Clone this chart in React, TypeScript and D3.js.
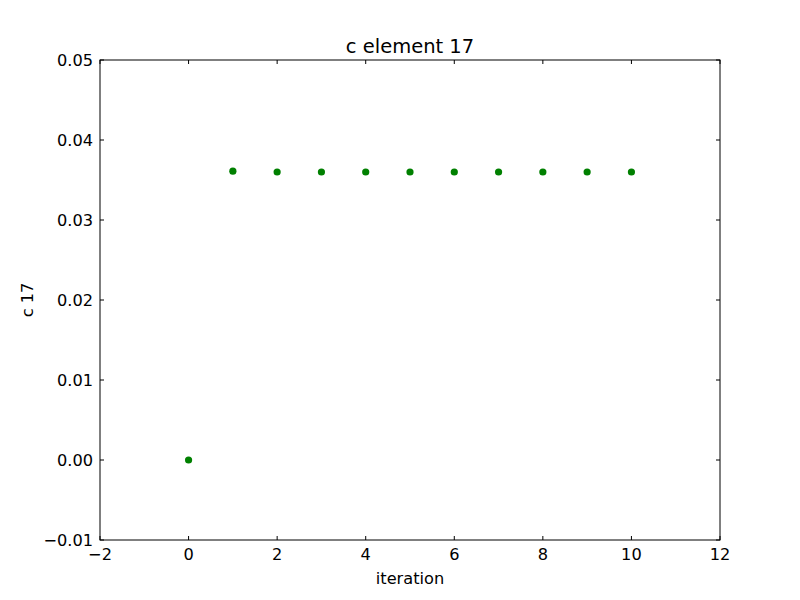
import React from "react";
import * as d3 from "d3";

const iterations = [0, 1, 2, 3, 4, 5, 6, 7, 8, 9, 10];
const values = [0.0, 0.0361, 0.036, 0.036, 0.036, 0.036, 0.036, 0.036, 0.036, 0.036, 0.036];
const xTicks = [-2, 0, 2, 4, 6, 8, 10, 12];
const yTicks = [-0.01, 0.0, 0.01, 0.02, 0.03, 0.04, 0.05];

export default function App() {
  const W = 800, H = 600;
  const L = 100, R = 720, T = 60, B = 540;
  const x = d3.scaleLinear().domain([-2, 12]).range([L, R]);
  const y = d3.scaleLinear().domain([-0.01, 0.05]).range([B, T]);
  const font = "DejaVu Sans";
  const fmtY = (v: number) => (v < 0 ? "\u2212" : "") + Math.abs(v).toFixed(2);
  const fmtX = (v: number) => (v < 0 ? "\u2212" : "") + Math.abs(v).toString();
  const tl = 4;
  return (
    <svg width={W} height={H} style={{ position: "absolute", left: 0, top: 0 }} fontFamily={font}>
      <rect x={0} y={0} width={W} height={H} fill="#fff" />
      {iterations.map((it, i) => (
        <circle key={i} cx={x(it)} cy={y(values[i])} r={3.6} fill="#008000" />
      ))}
      <rect x={L} y={T} width={R - L} height={B - T} fill="none" stroke="#000" strokeWidth={1} />
      {xTicks.map((t) => (
        <g key={"x" + t}>
          <line x1={x(t)} x2={x(t)} y1={B} y2={B - tl} stroke="#000" />
          <line x1={x(t)} x2={x(t)} y1={T} y2={T + tl} stroke="#000" />
          <text x={x(t)} y={B + 20} fontSize={16.2} textAnchor="middle">{fmtX(t)}</text>
        </g>
      ))}
      {yTicks.map((t) => (
        <g key={"y" + t}>
          <line x1={L} x2={L + tl} y1={y(t)} y2={y(t)} stroke="#000" />
          <line x1={R} x2={R - tl} y1={y(t)} y2={y(t)} stroke="#000" />
          <text x={L - 7} y={y(t)} dy="0.35em" fontSize={16.2} textAnchor="end">{fmtY(t)}</text>
        </g>
      ))}
      <text x={(L + R) / 2} y={53} fontSize={19.5} textAnchor="middle">c element 17</text>
      <text x={(L + R) / 2} y={584} fontSize={16.2} textAnchor="middle">iteration</text>
      <text transform={`translate(33,${(T + B) / 2}) rotate(-90)`} fontSize={16.2} textAnchor="middle">c 17</text>
    </svg>
  );
}
